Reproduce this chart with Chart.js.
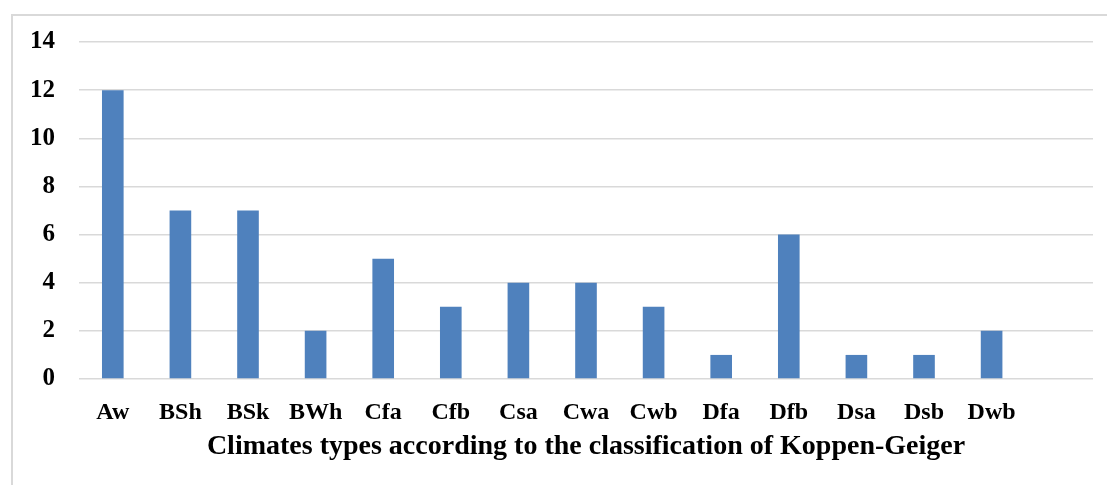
<!DOCTYPE html>
<html>
<head>
<meta charset="utf-8">
<script src="https://cdn.jsdelivr.net/npm/chart.js@4/dist/chart.umd.min.js"></script>
<style>
html,body{margin:0;padding:0;background:#fff;}
#wrap{position:relative;width:1107px;height:485px;overflow:hidden;}
#frame{position:absolute;left:11px;top:14px;width:1110px;height:490px;border:2px solid #d9d9d9;box-sizing:border-box;}
canvas{position:absolute;left:0;top:0;}
</style>
</head>
<body>
<div id="wrap">
<div id="frame"></div>
<canvas id="c" width="1107" height="485"></canvas>
</div>
<script>
const categories = ["Aw","BSh","BSk","BWh","Cfa","Cfb","Csa","Cwa","Cwb","Dfa","Dfb","Dsa","Dsb","Dwb",""];
const counts = [12,7,7,2,5,3,4,4,3,1,6,1,1,2,null];
const yTicks = [0,2,4,6,8,10,12,14];
const xTitle = "Climates types according to the classification of Koppen-Geiger";

const fam = "'Liberation Serif','Times New Roman',serif";
const tickFontX = {family:fam, weight:"bold", size:24};
const tickFontY = {family:fam, weight:"bold", size:25};
const titleFont = {family:fam, weight:"bold", size:28};

new Chart(document.getElementById('c'), {
  type:'bar',
  data:{labels:categories, datasets:[{data:counts, backgroundColor:'#4f81bd', borderWidth:0, categoryPercentage:1, barPercentage:0.32}]},
  options:{
    responsive:false, animation:false,
    layout:{padding:{top:42,right:14,left:0,bottom:0}},
    plugins:{legend:{display:false}, tooltip:{enabled:false}},
    scales:{
      x:{
        grid:{display:false}, border:{display:false},
        ticks:{color:'#000', font:tickFontX, padding:11, maxRotation:0, autoSkip:false},
        title:{display:true, text:xTitle, color:'#000', font:titleFont, padding:{top:0,bottom:21}},
        afterFit:(s)=>{s.height=106;}
      },
      y:{
        min:0, max:14,
        afterBuildTicks:(s)=>{s.ticks=yTicks.map(v=>({value:v}));},
        grid:{color:'#d9d9d9', lineWidth:1.5, drawTicks:false},
        border:{display:false},
        ticks:{color:'#000', font:tickFontY, padding:24},
        afterFit:(s)=>{s.width=79;}
      }
    }
  }
});
</script>
</body>
</html>
